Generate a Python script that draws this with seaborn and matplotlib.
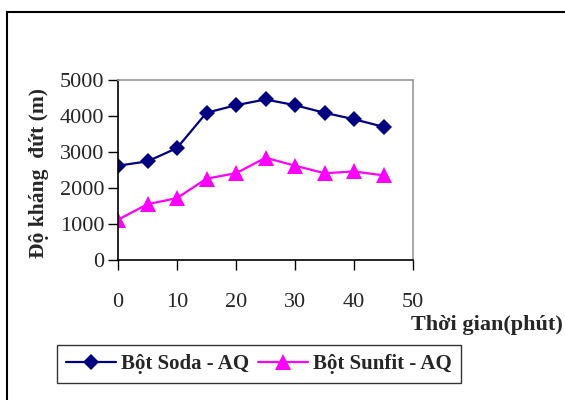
import matplotlib
matplotlib.use("Agg")
import matplotlib.pyplot as plt
import seaborn as sns
import pandas as pd
from matplotlib.patches import Rectangle
from matplotlib.lines import Line2D

time_min = [0, 5, 10, 15, 20, 25, 30, 35, 40, 45]
soda = [2620, 2740, 3110, 4090, 4300, 4460, 4300, 4090, 3910, 3700]
sunfit = [1120, 1550, 1720, 2260, 2410, 2840, 2620, 2410, 2460, 2350]
series_names = ["Bột Soda - AQ", "Bột Sunfit - AQ"]
colors = ["#000080", "#FF00FF"]
x_ticks = [0, 10, 20, 30, 40, 50]
y_ticks = [0, 1000, 2000, 3000, 4000, 5000]

df = pd.DataFrame({
    "t": time_min * 2,
    "v": soda + sunfit,
    "s": [series_names[0]] * len(soda) + [series_names[1]] * len(sunfit),
})

sns.set_style("white")
plt.rcParams['font.family'] = ['Liberation Serif', 'DejaVu Serif']

fig = plt.figure(figsize=(5.65, 4.0), dpi=100)
ax = fig.add_axes([118/565, 1-260/400, (413-118)/565, 180/400])

sns.lineplot(data=df, x="t", y="v", hue="s", style="s",
             palette=dict(zip(series_names, colors)),
             markers={series_names[0]: "D", series_names[1]: "^"},
             dashes=False, markersize=9, markeredgewidth=0,
             linewidth=1.6, ax=ax, legend=False)
for ln in ax.get_lines():
    if ln.get_marker() == "^":
        ln.set_markersize(11)
    else:
        ln.set_markersize(8)

ax.set_xlim(0, 50)
ax.set_ylim(0, 5000)
ax.set_xticks(x_ticks)
ax.set_yticks(y_ticks)
ax.set_xlabel("")
ax.set_ylabel("")
ax.tick_params(axis="x", direction="out", length=7, width=1, pad=17, labelsize=16, bottom=True, color="black")
ax.tick_params(axis="y", direction="out", length=7, width=1, pad=3, labelsize=16, left=True, color="black")
for side in ["left", "bottom"]:
    ax.spines[side].set_color("black")
    ax.spines[side].set_linewidth(1.2)
for side in ["top", "right"]:
    ax.spines[side].set_color("#999999")
    ax.spines[side].set_linewidth(1.2)
ax.set_facecolor("white")

fig.text(39/565, 1-173/400, "Độ kháng  đứt (m)", rotation=90, ha="center", va="center",
         fontsize=15.5, fontweight="bold")
fig.text(563/565, 1-325/400, "Thời gian(phút)", ha="right", va="center",
         fontsize=16, fontweight="bold")

handles = [Line2D([], [], color=colors[0], marker="D", markersize=8, lw=1.6, markeredgewidth=0),
           Line2D([], [], color=colors[1], marker="^", markersize=11, lw=1.6, markeredgewidth=0)]
leg = fig.legend(handles, series_names, loc="center", bbox_to_anchor=(259/565, 1-364/400),
                 ncol=2, frameon=True, fancybox=False, edgecolor="black", handlelength=2.4,
                 columnspacing=0.4, handletextpad=0.25, borderpad=0.45, borderaxespad=0,
                 prop={"family": ["Liberation Serif"], "weight": "bold", "size": 15})
leg.get_frame().set_linewidth(1.0)

fig.patches.append(Rectangle((7/565, -0.1), 1.2, 1 - 12/400 + 0.1, transform=fig.transFigure,
                             fill=False, edgecolor="black", linewidth=1.5))

fig.savefig("out.png", dpi=100, facecolor="white")
